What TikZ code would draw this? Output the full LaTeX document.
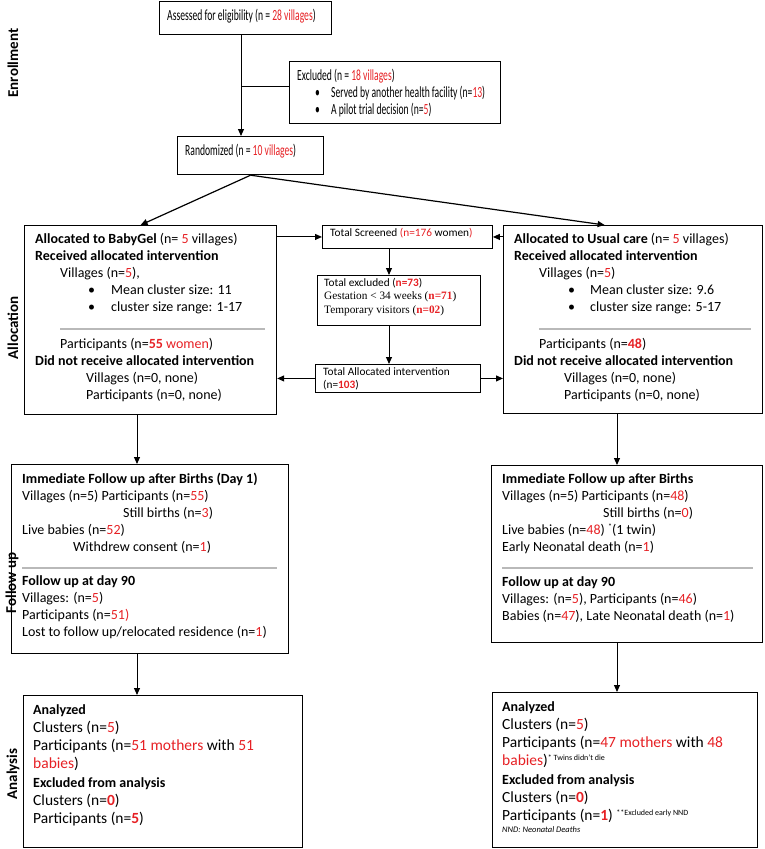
\documentclass[tikz,border=0pt]{standalone}
\usepackage{fontspec}
\setmainfont{Carlito}
\newfontfamily\narrowfont[FakeStretch=0.62]{Carlito}
\newfontfamily\seriffont{Liberation Serif}
\usetikzlibrary{positioning,calc,arrows.meta}
\definecolor{nred}{RGB}{230,32,36}
\newcommand{\rd}[1]{\textcolor{nred}{#1}}
\newcommand{\rb}[1]{\textcolor{nred}{\bfseries #1}}
\newcommand{\hd}[1]{{\fontsize{14}{18}\selectfont\bfseries #1}}
\newcommand{\bul}[1]{\makebox[#1][l]{\textbullet}}
\newcommand{\note}[1]{\raisebox{5pt}{\fontsize{8}{9}\selectfont #1}}
\tikzset{>={Triangle[length=7pt,width=6pt]},
  box/.style={draw,line width=1.2pt,anchor=north west,inner sep=0pt},
  midbox/.style={draw,line width=0.9pt,anchor=north west,inner sep=0pt},
  txt/.style={anchor=north west,inner sep=0pt,align=left,font=\fontsize{14}{17}\selectfont},
  toptxt/.style={txt,font=\fontsize{15.5}{17}\selectfont\narrowfont},
  midtxt/.style={anchor=north west,inner sep=0pt,align=left,font=\fontsize{11.3}{13.5}\selectfont},
  antxt/.style={anchor=north west,inner sep=0pt,align=left,font=\fontsize{15.5}{18.3}\selectfont},
  side/.style={rotate=90,font=\fontsize{15}{17}\selectfont\bfseries},
  sep/.style={gray!55,line width=1.5pt},
  arr/.style={->,line width=1pt}}

\begin{document}
\begin{tikzpicture}[x=1pt,y=-1pt]
\useasboundingbox (0,0) rectangle (764,849);
\coordinate (colM) at (241,0);
\coordinate (colC) at (389,0);
\coordinate (colL) at (137,0);
\coordinate (colR) at (617,0);
\coordinate (br) at (241,86);

\node[side] (enr) at (13,63) {Enrollment};
\node[side] (alc) at (13,328) {Allocation};
\node[side] (fol) at (12,583) {Follow up};
\node[side] (ana) at (13,774) {Analysis};

\node[box,minimum width=172,minimum height=33] (assess) at (159,1) {};
\node[box,minimum width=211,minimum height=62] (excl) at (289,61) {};
\node[box,minimum width=146,minimum height=38] (rand) at (177,136) {};
\node[box,minimum width=252,minimum height=189] (allocL) at (24,225) {};
\node[box,minimum width=259,minimum height=188] (allocR) at (503,225) {};
\node[midbox,minimum width=170,minimum height=23] (screen) at (322,225) {};
\node[midbox,minimum width=163,minimum height=50] (exmid) at (317,275) {};
\node[midbox,minimum width=165,minimum height=28] (allocd) at (315,364) {};
\node[box,minimum width=277,minimum height=189] (fuL) at (11,464) {};
\node[box,minimum width=271,minimum height=177] (fuR) at (491,465) {};
\node[box,minimum width=279,minimum height=152] (anL) at (23,695) {};
\node[box,minimum width=265,minimum height=155] (anR) at (492,692) {};

\node[toptxt] (assesst) at (167,9) {Assessed for eligibility (n = \rd{28 villages})};
\node[toptxt] (exclt) at (297,69) {Excluded (n = \rd{18 villages})\\
  \hspace*{18pt}\bul{16pt}Served by another health facility (n=\rd{13})\\
  \hspace*{18pt}\bul{16pt}A pilot trial decision (n=\rd{5})};
\node[toptxt] (randt) at (185,144) {Randomized (n = \rd{10 villages})};

\node[txt] (allocLa) at (35,233.5) {\textbf{Allocated to BabyGel} (n= \rd{5} villages)\\
  \textbf{Received allocated intervention}\\
  \hspace*{25pt}Villages (n=\rd{5}),\\
  \hspace*{53pt}\bul{23pt}Mean cluster size: 11\\
  \hspace*{53pt}\bul{23pt}cluster size range: 1-17};
\node[txt] (allocLb) at (35,338.5) {\hspace*{25pt}Participants (n=\rb{55} \rd{women})\\
  \textbf{Did not receive allocated intervention}\\
  \hspace*{51pt}Villages (n=0, none)\\
  \hspace*{51pt}Participants (n=0, none)};
\draw[sep] (60,329) -- (265,329);

\node[txt] (allocRa) at (514,233.5) {\textbf{Allocated to Usual care} (n= \rd{5} villages)\\
  \textbf{Received allocated intervention}\\
  \hspace*{25pt}Villages (n=\rd{5})\\
  \hspace*{54pt}\bul{22pt}Mean cluster size: 9.6\\
  \hspace*{54pt}\bul{22pt}cluster size range: 5-17};
\node[txt] (allocRb) at (514,338.5) {\hspace*{25pt}Participants (n=\rb{48})\\
  \textbf{Did not receive allocated intervention}\\
  \hspace*{50pt}Villages (n=0, none)\\
  \hspace*{50pt}Participants (n=0, none)};
\draw[sep] (539,329) -- (751,329);

\node[midtxt] (screent) at (330,228) {Total Screened \rd{(n=176} women\rd{)}};
\node[midtxt] (exmidt) at (324,278) {Total excluded (\rb{n=73})\\
  {\seriffont Gestation < 34 weeks (\rb{n=71})}\\
  {\seriffont Temporary visitors (\rb{n=02})}};
\node[midtxt] (allocdt) at (323,367) {Total Allocated intervention\\(n=\rb{103})};

\node[txt] (fuLa) at (22,472.5) {\textbf{Immediate Follow up after Births (Day 1)}\\
  Villages (n=5) Participants (n=\rd{55})\\
  \hspace*{101pt}Still births (n=\rd{3})\\
  Live babies (n=\rd{52})\\
  \hspace*{51pt}Withdrew consent (n=\rd{1})};
\node[txt] (fuLb) at (22,575.5) {\textbf{Follow up at day 90}\\
  Villages: (n=\rd{5})\\
  Participants (n=\rd{51)}\\
  Lost to follow up/relocated residence (n=\rd{1})};
\draw[sep] (22,568) -- (277,568);

\node[txt] (fuRa) at (502,473.5) {\textbf{Immediate Follow up after Births}\\
  Villages (n=5) Participants (n=\rd{48})\\
  \hspace*{101pt}Still births (n=\rd{0})\\
  Live babies (n=\rd{48}) \note{*}(1 twin)\\
  Early Neonatal death (n=\rd{1})};
\node[txt] (fuRb) at (502,576.5) {\textbf{Follow up at day 90}\\
  Villages: (n=\rd{5}), Participants (n=\rd{46})\\
  Babies (n=\rd{47}), Late Neonatal death (n=\rd{1})};
\draw[sep] (502,568) -- (753,568);

\node[antxt] (anLt) at (33,704) {\hd{Analyzed}\\
  Clusters (n=\rd{5})\\
  Participants (n=\rd{51 mothers} with \rd{51}\\
  \rd{babies})\\
  \hd{Excluded from analysis}\\
  Clusters (n=\rb{0})\\
  Participants (n=\rb{5})};
\node[antxt] (anRt) at (502,701) {\hd{Analyzed}\\
  Clusters (n=\rd{5})\\
  Participants (n=\rd{47 mothers} with \rd{48}\\
  \rd{babies})\note{* Twins didn't die}\\
  \hd{Excluded from analysis}\\
  Clusters (n=\rb{0})\\
  Participants (n=\rb{1}) \note{**Excluded early NND}};
\node[anchor=north west,inner sep=0pt,font=\fontsize{8.5}{10}\selectfont\itshape] (nnd) at (502,826) {NND: Neonatal Deaths};

\draw[arr] (assess.south -| colM) -- (rand.north -| colM);
\draw[line width=1pt] (br) -- (br -| excl.west);
\draw[arr,line width=1.2pt] (rand.south) -- ([xshift=-10]allocL.north);
\draw[arr,line width=1.2pt] (rand.south) -- ([xshift=-28.5]allocR.north);
\draw[arr] (allocL.east |- screen.west) -- (screen.west);
\draw[arr] (allocR.west |- screen.east) -- (screen.east);
\draw[arr] (screen.south -| colC) -- (exmid.north -| colC);
\draw[arr] (exmid.south -| colC) -- (allocd.north -| colC);
\draw[arr] (allocd.west) -- (allocL.east |- allocd.west);
\draw[arr] (allocd.east) -- (allocR.west |- allocd.east);
\draw[arr] (allocL.south -| colL) -- (fuL.north -| colL);
\draw[arr] (allocR.south -| colR) -- (fuR.north -| colR);
\draw[arr] (fuL.south -| colL) -- (anL.north -| colL);
\draw[arr] (fuR.south -| colR) -- (anR.north -| colR);
\end{tikzpicture}
\end{document}
